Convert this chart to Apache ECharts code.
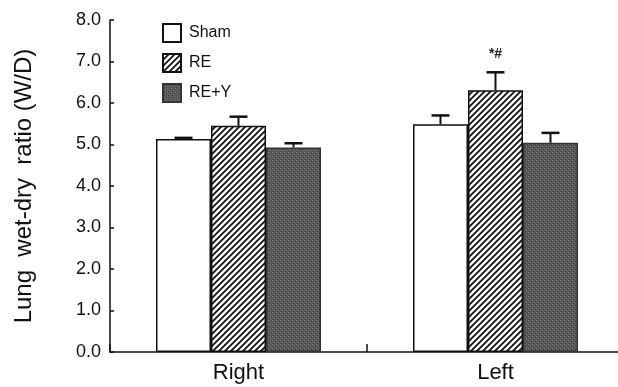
<!DOCTYPE html>
<html><head><meta charset="utf-8">
<script src="https://cdn.jsdelivr.net/npm/echarts@6/dist/echarts.min.js"></script>
<style>html,body{margin:0;padding:0;background:#fff}#c{width:618px;height:387px}</style>
</head><body><div id="c"></div>
<script>
var categories = ['Right', 'Left'];
var seriesNames = ['Sham', 'RE', 'RE+Y'];
var shamVals = [5.13, 5.49];
var reVals = [5.45, 6.31];
var reyVals = [4.93, 5.04];
var shamErr = [0.03, 0.21];
var reErr = [0.22, 0.43];
var reyErr = [0.10, 0.24];
var annotations = [['', ''], ['', '*#'], ['', '']];
var yTicks = [0, 1, 2, 3, 4, 5, 6, 7, 8];

function hatch() {
  var c = document.createElement('canvas');
  var s = 6;
  c.width = s; c.height = s;
  var g = c.getContext('2d');
  g.fillStyle = '#fff'; g.fillRect(0, 0, s, s);
  g.strokeStyle = '#111'; g.lineWidth = 1.8;
  g.beginPath();
  g.moveTo(-1, s + 1); g.lineTo(s + 1, -1);
  g.moveTo(-1 - s, s + 1); g.lineTo(1, -1);
  g.moveTo(s - 1, s + 1); g.lineTo(2 * s + 1, -1);
  g.stroke();
  return c;
}
function speckle() {
  var c = document.createElement('canvas');
  var s = 4;
  c.width = s; c.height = s;
  var g = c.getContext('2d');
  g.fillStyle = '#5a5a5a'; g.fillRect(0, 0, s, s);
  g.fillStyle = '#787878'; g.fillRect(0, 0, 1, 1); g.fillRect(2, 2, 1, 1);
  g.fillStyle = '#404040'; g.fillRect(1, 3, 1, 1); g.fillRect(3, 1, 1, 1);
  return c;
}

var vals = [shamVals, reVals, reyVals];
var errs = [shamErr, reErr, reyErr];
var colors = ['#ffffff', {image: hatch(), repeat: 'repeat'}, {image: speckle(), repeat: 'repeat'}];
var BW = 55;
var FONT = '"Liberation Sans", Arial, sans-serif';

var series = [];
seriesNames.forEach(function (n, i) {
  series.push({
    name: n, type: 'bar', data: vals[i], barWidth: BW, barGap: '0%',
    itemStyle: {color: colors[i], borderColor: i === 2 ? '#333' : '#111', borderWidth: 1.5},
    z: 2
  });
});
var errData = [];
seriesNames.forEach(function (n, i) {
  categories.forEach(function (c, j) {
    errData.push([j, vals[i][j], vals[i][j] + errs[i][j], i, annotations[i][j]]);
  });
});
series.push({
  type: 'custom', name: 'err', data: errData, z: 5, silent: true,
  renderItem: function (params, api) {
    var idx = api.value(0);
    var lo = api.coord([idx, api.value(1)]);
    var hi = api.coord([idx, api.value(2)]);
    var x = lo[0] + (api.value(3) - 1) * BW;
    var ch = [
      {type: 'line', shape: {x1: x, y1: lo[1], x2: x, y2: hi[1]}, style: {stroke: '#111', lineWidth: 2}},
      {type: 'line', shape: {x1: x - 9, y1: hi[1], x2: x + 9, y2: hi[1]}, style: {stroke: '#111', lineWidth: 2.5}}
    ];
    var t = errData[params.dataIndex][4];
    if (t) ch.push({type: 'text', style: {text: t, x: x, y: hi[1] - 18, align: 'center', verticalAlign: 'middle', font: 'bold 14px ' + FONT, fill: '#222'}});
    return {type: 'group', children: ch};
  }
});

var chart = echarts.init(document.getElementById('c'), null, {renderer: 'canvas'});
chart.setOption({
  animation: false,
  backgroundColor: '#fff',
  grid: {left: 110, width: 514, top: 20, bottom: 35, containLabel: false, outerBoundsMode: 'none'},
  legend: {
    data: seriesNames, orient: 'vertical', left: 157, top: 18, itemWidth: 18, itemHeight: 18, itemGap: 10,
    textStyle: {fontFamily: FONT, fontSize: 16, color: '#111', padding: [0, 0, 0, 3]},
    icon: 'rect'
  },
  xAxis: {
    type: 'category', data: categories,
    axisLine: {lineStyle: {color: '#111', width: 1.5}},
    axisTick: {show: true, inside: true, length: 8, alignWithLabel: false, lineStyle: {color: '#111', width: 1.5}},
    axisLabel: {fontFamily: FONT, fontSize: 22, color: '#111', margin: 10}
  },
  yAxis: {
    type: 'value', min: 0, max: 8, interval: 1,
    name: 'Lung  wet-dry  ratio (W/D)', nameLocation: 'middle', nameGap: 74,
    nameTextStyle: {fontFamily: FONT, fontSize: 24, color: '#111'},
    axisLine: {show: true, lineStyle: {color: '#111', width: 1.5}},
    axisTick: {show: true, inside: true, length: 4, lineStyle: {color: '#111', width: 1.5}},
    splitLine: {show: false},
    axisLabel: {fontFamily: FONT, fontSize: 18, color: '#111', margin: 9,
      formatter: function (v) { return yTicks.indexOf(v) >= 0 ? v.toFixed(1) : ''; }}
  },
  series: series
});
</script></body></html>
